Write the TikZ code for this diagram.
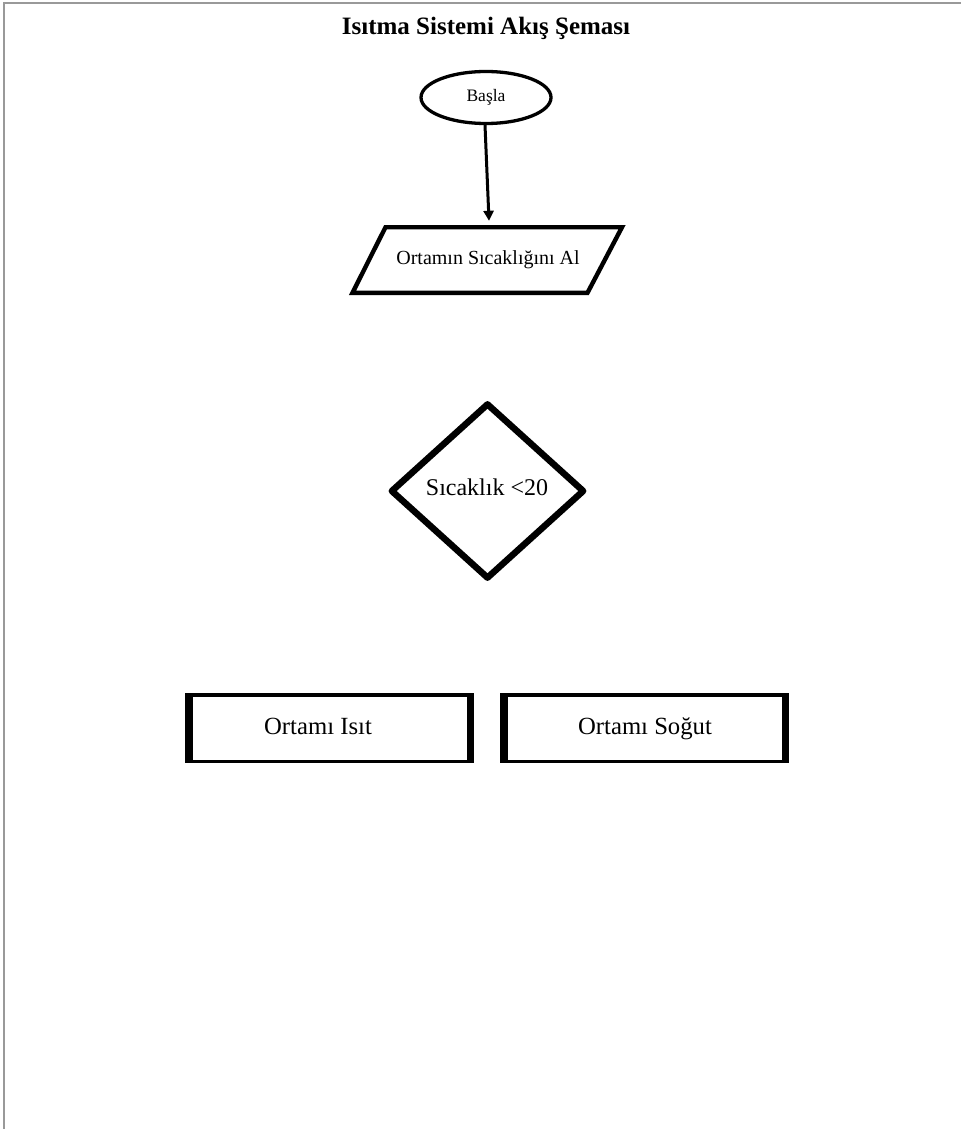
\documentclass[tikz,border=0pt]{standalone}
\usepackage{fontspec}
\setmainfont{Liberation Serif}
\usetikzlibrary{shapes.geometric,arrows.meta}

\tikzset{
  terminal/.style={ellipse,draw,line width=3.3pt,minimum width=130pt,minimum height=52pt,inner sep=0pt,
    font=\fontsize{17.5}{20}\selectfont,fill=white},
  iobox/.style={draw,line width=4.4pt,line join=miter,fill=white},
  iotext/.style={inner sep=0pt,minimum width=200pt,minimum height=70pt,font=\fontsize{20}{24}\selectfont},
  decision/.style={diamond,draw,line width=6.5pt,line join=round,minimum width=194pt,minimum height=176pt,
    inner sep=0pt,fill=white},
  processbox/.style={draw,line width=3.5pt,minimum width=285.5pt,minimum height=66.5pt,inner sep=0pt,
    outer sep=0pt,fill=white},
  boxtext/.style={font=\fontsize{24.7}{28}\selectfont,inner sep=0pt,anchor=base},
  flow/.style={line width=3pt,-{Triangle[length=10pt,width=10pt]}},
  pageedge/.style={draw=black!40,line width=2pt},
}

\begin{document}
\begin{tikzpicture}[x=1pt,y=-1pt]
  \useasboundingbox[fill=white] (0,0) rectangle (961,1129);

  % page edges
  \draw[pageedge] (4,1129) -- (4,3) -- (961,3);

  % title
  \node[font=\bfseries\fontsize{25}{30}\selectfont,inner sep=0pt,anchor=base] (baslik) at (486,35) {Isıtma Sistemi Akış Şeması};

  % start
  \node[terminal] (basla) at (486,97.5) {Başla};

  % input: read the temperature
  \path[iobox] (385.5,227.2) -- (622,227.2) -- (587.5,292.8) -- (352.5,292.8) -- cycle;
  \node[iotext] (oku) at (488,260) {Ortamın Sıcaklığını Al};

  % decision
  \node[decision] (karar) at (487.5,491) {};
  \node[font=\fontsize{24}{28}\selectfont,inner sep=0pt,anchor=base] (kosul) at (487,495) {Sıcaklık <20};

  % actions
  \node[processbox] (isit) at (329.5,728) {};
  \fill ([xshift=-1.75pt,yshift=1.75pt]isit.north west) rectangle ([xshift=6.25pt,yshift=-1.75pt]isit.south west);
  \fill ([xshift=1.75pt,yshift=1.75pt]isit.north east) rectangle ([xshift=-5.25pt,yshift=-1.75pt]isit.south east);
  \node[boxtext] (isitmetin) at (318,734) {Ortamı Isıt};

  \node[processbox] (sogut) at (644.5,728) {};
  \fill ([xshift=-1.75pt,yshift=1.75pt]sogut.north west) rectangle ([xshift=6.25pt,yshift=-1.75pt]sogut.south west);
  \fill ([xshift=1.75pt,yshift=1.75pt]sogut.north east) rectangle ([xshift=-5.25pt,yshift=-1.75pt]sogut.south east);
  \node[boxtext] (sogutmetin) at (645,734) {Ortamı Soğut};

  % connector
  \draw[flow] ([xshift=-1pt]basla.south) -- ([xshift=1pt,yshift=4pt]oku.north);
\end{tikzpicture}
\end{document}
